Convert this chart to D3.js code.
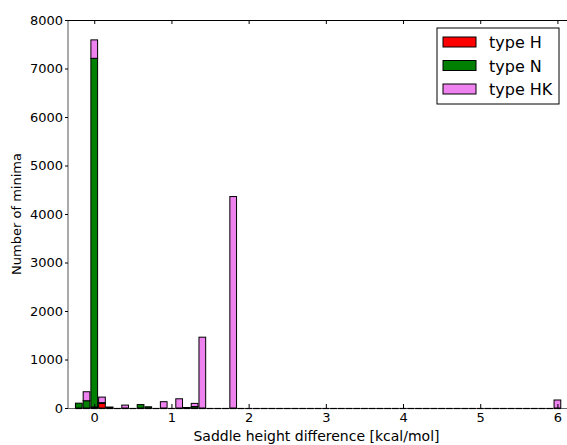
<!DOCTYPE html>
<html>
<head>
<meta charset="utf-8">
<script src="https://cdn.jsdelivr.net/npm/d3@7/dist/d3.min.js"></script>
<style>
  html, body { margin: 0; padding: 0; background: #fff; }
  svg { display: block; font-family: "DejaVu Sans", sans-serif; }
</style>
</head>
<body>
<svg id="chart" width="567" height="445"></svg>
<script>
// Histogram bin centres (kcal/mol), bin width 0.1
const binCenters = [
  -0.2, -0.1, 0.0, 0.1, 0.2, 0.3, 0.4, 0.5, 0.6, 0.7, 0.8, 0.9,
  1.0, 1.1, 1.2, 1.3, 1.4, 1.5, 1.6, 1.7, 1.8, 1.9, 2.0, 2.1,
  2.2, 2.3, 2.4, 2.5, 2.6, 2.7, 2.8, 2.9, 3.0, 3.1, 3.2, 3.3,
  3.4, 3.5, 3.6, 3.7, 3.8, 3.9, 4.0, 4.1, 4.2, 4.3, 4.4, 4.5,
  4.6, 4.7, 4.8, 4.9, 5.0, 5.1, 5.2, 5.3, 5.4, 5.5, 5.6, 5.7,
  5.8, 5.9, 6.0
];

// Counts per bin for each minimum type (stacked bottom to top: H, N, HK)
const typeH = [
  0, 0, 20, 95, 0, 0, 0, 0, 0, 0, 0, 0,
  0, 0, 0, 0, 0, 0, 0, 0, 0, 0, 0, 0,
  0, 0, 0, 0, 0, 0, 0, 0, 0, 0, 0, 0,
  0, 0, 0, 0, 0, 0, 0, 0, 0, 0, 0, 0,
  0, 0, 0, 0, 0, 0, 0, 0, 0, 0, 0, 0,
  0, 0, 0
];
const typeN = [
  100, 150, 7190, 15, 20, 0, 0, 0, 70, 25, 0, 0,
  0, 0, 10, 30, 0, 0, 0, 0, 0, 0, 0, 0,
  0, 0, 0, 0, 0, 0, 0, 0, 0, 0, 0, 0,
  0, 0, 0, 0, 0, 0, 0, 0, 0, 0, 0, 0,
  0, 0, 0, 0, 0, 0, 0, 0, 0, 0, 0, 0,
  0, 0, 0
];
const typeHK = [
  0, 185, 380, 115, 0, 0, 60, 0, 0, 0, 0, 130,
  0, 190, 0, 65, 1460, 0, 0, 0, 4360, 0, 0, 0,
  0, 0, 0, 0, 0, 0, 0, 0, 0, 0, 0, 0,
  0, 0, 0, 0, 0, 0, 0, 0, 0, 0, 0, 0,
  0, 0, 0, 0, 0, 0, 0, 0, 0, 0, 0, 0,
  0, 0, 165
];

const seriesNames = ["type H", "type N", "type HK"];
const seriesColors = ["#ff0000", "#008000", "#ee82ee"];
const xTicks = [0, 1, 2, 3, 4, 5, 6];
const yTicks = [0, 1000, 2000, 3000, 4000, 5000, 6000, 7000, 8000];

const barWidth = 0.087;

const svg = d3.select("#chart");
const plotLeft = 68, plotRight = 569, plotTop = 20, plotBottom = 408;

const x = d3.scaleLinear().domain([-0.34, 6.15]).range([plotLeft, plotRight]);
const y = d3.scaleLinear().domain([0, 8000]).range([plotBottom, plotTop]);

// stacked layout
const rows = binCenters.map((c, i) => ({ c, H: typeH[i], N: typeN[i], HK: typeHK[i] }));
const stacked = d3.stack().keys(["H", "N", "HK"])(rows);

const bw = x(barWidth) - x(0);

// frame (drawn first so the zero-height bin edges sit on top of it)
const frame = svg.append("g").attr("stroke", "#555").attr("stroke-width", 1).attr("fill", "none");
frame.append("line").attr("x1", plotLeft).attr("x2", plotLeft).attr("y1", plotTop).attr("y2", plotBottom);
frame.append("line").attr("x1", plotLeft).attr("x2", plotRight).attr("y1", plotTop + 0.5).attr("y2", plotTop + 0.5).attr("stroke", "#000");
frame.append("line").attr("x1", plotLeft).attr("x2", plotRight).attr("y1", plotBottom + 0.5).attr("y2", plotBottom + 0.5).attr("stroke", "#666");
frame.append("line").attr("x1", plotRight).attr("x2", plotRight).attr("y1", plotTop).attr("y2", plotBottom);

// zero-height bin edges along the baseline
svg.append("g").selectAll("line")
  .data(binCenters)
  .join("line")
  .attr("x1", d => x(d) - bw / 2)
  .attr("x2", d => x(d) + bw / 2)
  .attr("y1", y(0) + 0.5)
  .attr("y2", y(0) + 0.5)
  .attr("stroke", "#000")
  .attr("stroke-width", 1.2);

const layers = svg.append("g").selectAll("g")
  .data(stacked)
  .join("g")
  .attr("fill", (d, i) => seriesColors[i]);

layers.selectAll("rect")
  .data(d => d.filter(s => s[1] - s[0] > 0))
  .join("rect")
  .attr("x", d => x(d.data.c) - bw / 2)
  .attr("width", bw)
  .attr("y", d => y(d[1]))
  .attr("height", d => y(d[0]) - y(d[1]))
  .attr("stroke", "#000")
  .attr("stroke-width", 1);

// x axis: ticks inward at bottom and top
const xAxis = d3.axisBottom(x).tickValues(xTicks).tickFormat(d3.format("d"))
  .tickSizeInner(-4).tickSizeOuter(0).tickPadding(5);
const gx = svg.append("g").attr("transform", `translate(0,${plotBottom})`).call(xAxis);
gx.select(".domain").remove();
gx.selectAll("text").attr("font-size", 13).attr("font-family", "DejaVu Sans").attr("fill", "#000");

const xTop = d3.axisTop(x).tickValues(xTicks).tickFormat("").tickSizeInner(-4).tickSizeOuter(0);
const gxt = svg.append("g").attr("transform", `translate(0,${plotTop})`).call(xTop);
gxt.select(".domain").remove();

// y axis
const yAxis = d3.axisLeft(y).tickValues(yTicks).tickFormat(d3.format("d"))
  .tickSizeInner(3).tickSizeOuter(0).tickPadding(2);
const gy = svg.append("g").attr("transform", `translate(${plotLeft},0)`).call(yAxis);
gy.select(".domain").remove();
gy.selectAll("text").attr("font-size", 13).attr("font-family", "DejaVu Sans").attr("fill", "#000");

// axis titles
svg.append("text")
  .attr("x", (plotLeft + 567) / 2 - 1)
  .attr("y", 441)
  .attr("text-anchor", "middle")
  .attr("font-size", 14)
  .text("Saddle height difference [kcal/mol]");

svg.append("text")
  .attr("transform", `translate(21,${(plotTop + plotBottom) / 2}) rotate(-90)`)
  .attr("text-anchor", "middle")
  .attr("font-size", 13)
  .text("Number of minima");

// legend
const lg = svg.append("g").attr("transform", "translate(437,28)");
lg.append("rect").attr("x", 0).attr("y", 0).attr("width", 122).attr("height", 76)
  .attr("fill", "#fff").attr("stroke", "#000").attr("stroke-width", 1);
const items = lg.selectAll("g.item").data(seriesNames).join("g")
  .attr("class", "item")
  .attr("transform", (d, i) => `translate(0,${14 + i * 23.5})`);
items.append("rect").attr("x", 6).attr("y", -5).attr("width", 33).attr("height", 10)
  .attr("fill", (d, i) => seriesColors[i]).attr("stroke", "#000").attr("stroke-width", 1);
items.append("text").attr("x", 52).attr("y", 6).attr("font-size", 16).text(d => d);
</script>
</body>
</html>
